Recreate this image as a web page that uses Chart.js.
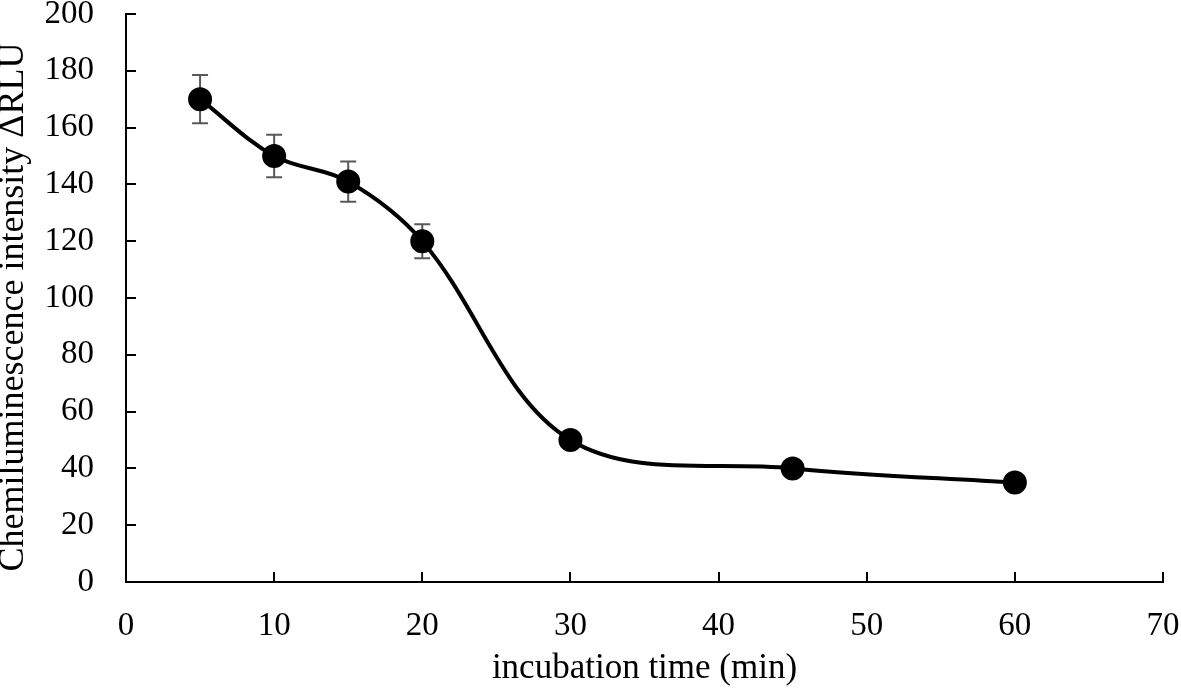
<!DOCTYPE html>
<html>
<head>
<meta charset="utf-8">
<script src="https://cdn.jsdelivr.net/npm/chart.js@4.4.0/dist/chart.umd.min.js"></script>
<style>
html,body{margin:0;padding:0;background:#fff;}
#wrap{width:1181px;height:694px;}
</style>
</head>
<body>
<div id="wrap"><canvas id="c" width="1181" height="694"></canvas></div>
<script>
const times = [5, 10, 15, 20, 30, 45, 60];
const intensity = [170, 150, 141, 120, 50, 40, 35];
const errors = [8.5, 7.5, 7.1, 6, 0, 0, 0];
const xTicks = [0, 10, 20, 30, 40, 50, 60, 70];
const yTicks = [0, 20, 40, 60, 80, 100, 120, 140, 160, 180, 200];

const FONT = "'Liberation Serif', 'Times New Roman', serif";

const points = times.map((t, i) => ({x: t, y: intensity[i]}));

const extras = {
  id: 'extras',
  beforeDatasetsDraw(chart) {
    const ctx = chart.ctx;
    const xs = chart.scales.x, ys = chart.scales.y;
    ctx.save();
    ctx.strokeStyle = '#595959';
    ctx.lineWidth = 2;
    times.forEach((t, i) => {
      const e = errors[i];
      if (!e) return;
      const px = xs.getPixelForValue(t);
      const top = ys.getPixelForValue(intensity[i] + e);
      const bot = ys.getPixelForValue(intensity[i] - e);
      ctx.beginPath();
      ctx.moveTo(px, top); ctx.lineTo(px, bot);
      ctx.moveTo(px - 8, top); ctx.lineTo(px + 8, top);
      ctx.moveTo(px - 8, bot); ctx.lineTo(px + 8, bot);
      ctx.stroke();
    });
    ctx.restore();
  },
  afterDraw(chart) {
    const ctx = chart.ctx;
    const xs = chart.scales.x, ys = chart.scales.y;
    const a = chart.chartArea;
    ctx.save();
    ctx.strokeStyle = '#000';
    ctx.lineWidth = 2;
    ctx.beginPath();
    xTicks.forEach(v => {
      const px = Math.round(xs.getPixelForValue(v));
      ctx.moveTo(px, a.bottom); ctx.lineTo(px, a.bottom - 10);
    });
    yTicks.forEach(v => {
      const py = Math.round(ys.getPixelForValue(v));
      ctx.moveTo(a.left, py); ctx.lineTo(a.left + 10, py);
    });
    ctx.stroke();
    ctx.restore();
  }
};

new Chart(document.getElementById('c'), {
  type: 'line',
  data: {
    datasets: [{
      data: points,
      borderColor: '#000',
      backgroundColor: '#000',
      borderWidth: 4,
      pointRadius: 10,
      pointHoverRadius: 10,
      pointBackgroundColor: '#000',
      pointBorderColor: '#000',
      tension: 0.35,
      fill: false
    }]
  },
  options: {
    responsive: false,
    animation: false,
    events: [],
    layout: {padding: {top: 13, right: 18, left: 0, bottom: 0}},
    plugins: {legend: {display: false}, tooltip: {enabled: false}},
    scales: {
      x: {
        type: 'linear',
        min: 0, max: 70,
        afterBuildTicks: s => { s.ticks = xTicks.map(v => ({value: v})); },
        afterFit: s => { s.height = 112; s.paddingLeft = 0; s.paddingRight = 0; },
        grid: {display: false, drawTicks: false},
        border: {display: true, color: '#000', width: 2},
        ticks: {color: '#000', font: {family: FONT, size: 33}, padding: 25, maxRotation: 0},
        title: {display: true, text: 'incubation time (min)', color: '#000', font: {family: FONT, size: 35, lineHeight: 1.2}, padding: {top: 0, bottom: 4}}
      },
      y: {
        type: 'linear',
        min: 0, max: 200,
        afterBuildTicks: s => { s.ticks = yTicks.map(v => ({value: v})); },
        afterFit: s => { s.width = 126; s.paddingTop = 0; s.paddingBottom = 0; },
        grid: {display: false, drawTicks: false},
        border: {display: true, color: '#000', width: 2},
        ticks: {color: '#000', font: {family: FONT, size: 33}, padding: 32},
        title: {display: true, text: 'Chemiluminescence intensity ΔRLU\u00A0\u00A0', color: '#000', font: {family: FONT, size: 36, lineHeight: 0.75}, padding: {top: 0, bottom: 0}}
      }
    }
  },
  plugins: [extras]
});
</script>
</body>
</html>
